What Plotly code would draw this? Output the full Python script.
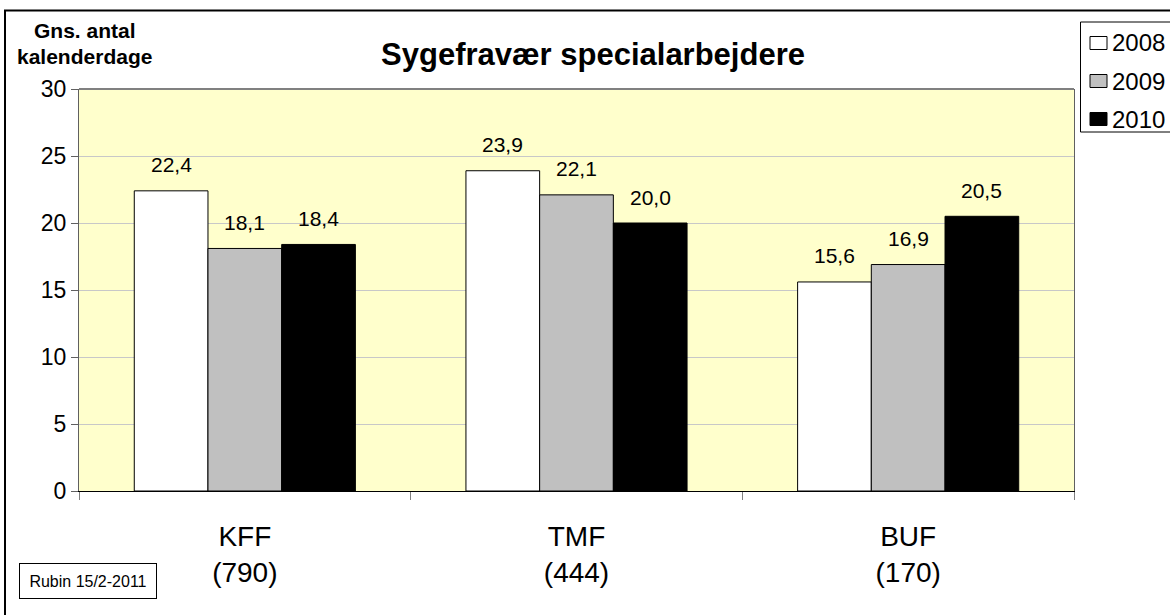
import plotly.graph_objects as go

categories = ["KFF", "TMF", "BUF"]
counts = ["(790)", "(444)", "(170)"]
years = ["2008", "2009", "2010"]
values_2008 = [22.4, 23.9, 15.6]
values_2009 = [18.1, 22.1, 16.9]
values_2010 = [18.4, 20.0, 20.5]
series = [values_2008, values_2009, values_2010]
colors = ["#FFFFFF", "#C0C0C0", "#000000"]
y_ticks = [0, 5, 10, 15, 20, 25, 30]

FONT = "Liberation Sans, Arial, sans-serif"
W, H = 1170, 615
# plot area in window pixels: x 79..1074, y 89..491
L, T = 79, 89
R = W - 1074
B = H - 491
pw, ph = W - L - R, H - T - B

def px_x(p):
    return (p - L) / pw

def px_y(p):
    return (H - B - p) / ph

x_pos = list(range(len(categories)))
bar_w = 2 / 9
offsets = [-bar_w, 0, bar_w]

fig = go.Figure()
for yr, vals, col, off in zip(years, series, colors, offsets):
    fig.add_trace(go.Bar(
        x=x_pos, y=vals, name=yr, marker=dict(color=col, line=dict(color="black", width=1)),
        width=bar_w, offset=off - bar_w / 2, showlegend=False,
    ))
    for xi, v in zip(x_pos, vals):
        fig.add_annotation(x=xi + off, y=v, xref="x", yref="y", text=f"{v:.1f}".replace(".", ","),
                           showarrow=False, yshift=26, yanchor="middle",
                           font=dict(family=FONT, size=21, color="black"))

fig.update_layout(
    width=W, height=H, autosize=False,
    margin=dict(l=L, r=R, t=T, b=B, autoexpand=False),
    paper_bgcolor="white", plot_bgcolor="#FFFFCC",
    font=dict(family=FONT, color="black"),
    barmode="overlay",
    title=dict(text="<b>Sygefravær specialarbejdere</b>", x=593 / W, xref="container", xanchor="center",
               y=1 - 54 / H, yref="container", yanchor="middle",
               font=dict(family=FONT, size=31, color="black")),
    xaxis=dict(range=[-0.5, 2.5], tickmode="array", tickvals=x_pos,
               ticktext=[f"{c}<br>{n}" for c, n in zip(categories, counts)],
               ticks="", showgrid=False, zeroline=False, showline=True, linecolor="black", linewidth=1,
               tickfont=dict(family=FONT, size=28, color="black"), ticklabelstandoff=20,
               minor=dict(tickmode="array", tickvals=[-0.5, 0.5, 1.5, 2.5], ticks="outside",
                          ticklen=8, tickcolor="#808080", showgrid=False)),
    yaxis=dict(range=[0, 30], tickmode="array", tickvals=y_ticks, ticks="outside", ticklen=7,
               tickcolor="#606060", showgrid=True, gridcolor="#C8C8C8", gridwidth=1, zeroline=False,
               showline=True, linecolor="#606060", linewidth=1, mirror=True,
               tickfont=dict(family=FONT, size=23, color="black")),
)

# top border of plot area
fig.add_shape(type="line", xref="paper", yref="paper", x0=0, x1=1, y0=1, y1=1,
              line=dict(color="#808080", width=2))
# outer frame of the chart
fig.add_shape(type="rect", xref="paper", yref="paper", x0=px_x(5), x1=px_x(1200), y0=px_y(660), y1=px_y(10.5),
              line=dict(color="black", width=2), layer="below")

# legend box (drawn to match the reference's compact layout)
fig.add_shape(type="rect", xref="paper", yref="paper", x0=px_x(1080.5), x1=px_x(1200), y0=px_y(132), y1=px_y(22),
              line=dict(color="black", width=1), fillcolor="white")
legend_y = [43, 81, 119]
for yr, col, ly in zip(years, colors, legend_y):
    fig.add_shape(type="rect", xref="paper", yref="paper", x0=px_x(1090), x1=px_x(1107),
                  y0=px_y(ly + 6.5), y1=px_y(ly - 6.5), line=dict(color="black", width=1), fillcolor=col)
    fig.add_annotation(x=px_x(1110), y=px_y(ly), xref="paper", yref="paper", text=yr, showarrow=False,
                       xanchor="left", yanchor="middle", font=dict(family=FONT, size=24, color="black"))

fig.add_annotation(x=px_x(85), y=px_y(30), xref="paper", yref="paper", text="<b>Gns. antal</b>",
                   showarrow=False, xanchor="center", yanchor="middle", font=dict(family=FONT, size=21))
fig.add_annotation(x=px_x(84), y=px_y(56), xref="paper", yref="paper", text="<b>kalenderdage</b>",
                   showarrow=False, xanchor="center", yanchor="middle", font=dict(family=FONT, size=21))

fig.add_annotation(x=px_x(88), y=px_y(581), xref="paper", yref="paper", text="Rubin 15/2-2011",
                   showarrow=False, xanchor="center", yanchor="middle", width=134, height=32,
                   bordercolor="black", borderwidth=1, borderpad=1, bgcolor="white",
                   font=dict(family=FONT, size=16, color="black"))

fig.write_html("out.html", config={"responsive": False, "displayModeBar": False},
               post_script="document.body.style.margin='0';document.body.style.overflow='hidden';")
